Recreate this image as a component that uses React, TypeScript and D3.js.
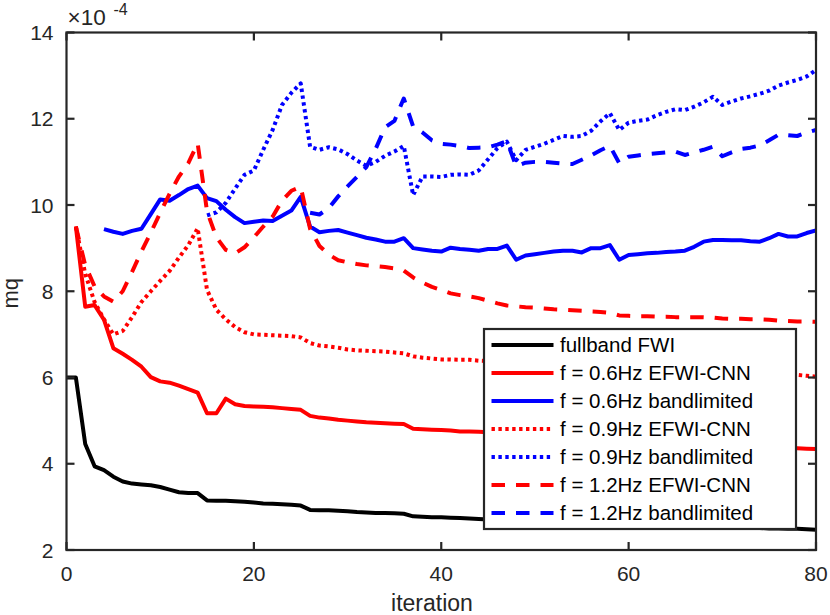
import { useEffect, useRef } from 'react';
import * as d3 from 'd3';

// iterations on x, mq (x 1e-4) on y
const xTicks = [0, 20, 40, 60, 80];
const yTicks = [2, 4, 6, 8, 10, 12, 14];

const fullbandStart = 0;
const fullband = [
  6.00, 6.00, 4.46, 3.94, 3.85, 3.70, 3.59, 3.54, 3.52, 3.50,
  3.46, 3.40, 3.34, 3.32, 3.32, 3.15, 3.14, 3.14, 3.13, 3.12,
  3.10, 3.08, 3.07, 3.06, 3.05, 3.03, 2.93, 2.92, 2.92, 2.91,
  2.90, 2.88, 2.87, 2.86, 2.86, 2.85, 2.84, 2.78, 2.77, 2.76,
  2.76, 2.75, 2.74, 2.73, 2.72, 2.71, 2.71, 2.70, 2.69, 2.68,
  2.67, 2.66, 2.65, 2.65, 2.64, 2.63, 2.62, 2.61, 2.60, 2.60,
  2.59, 2.58, 2.58, 2.57, 2.56, 2.56, 2.55, 2.55, 2.54, 2.53,
  2.53, 2.52, 2.52, 2.51, 2.51, 2.50, 2.50, 2.49, 2.49, 2.48,
  2.47,
];

const cnn06Start = 1;
const cnn06 = [
  9.50, 7.64, 7.68, 7.34, 6.68, 6.55, 6.41, 6.25, 6.01, 5.91,
  5.88, 5.81, 5.73, 5.65, 5.17, 5.17, 5.51, 5.38, 5.34, 5.33,
  5.32, 5.31, 5.29, 5.27, 5.25, 5.11, 5.07, 5.05, 5.02, 5.00,
  4.98, 4.96, 4.95, 4.94, 4.93, 4.92, 4.81, 4.80, 4.79, 4.78,
  4.77, 4.75, 4.75, 4.74, 4.73, 4.72, 4.71, 4.68, 4.66, 4.65,
  4.64, 4.62, 4.61, 4.60, 4.59, 4.57, 4.56, 4.55, 4.53, 4.52,
  4.51, 4.50, 4.49, 4.48, 4.47, 4.46, 4.45, 4.44, 4.43, 4.42,
  4.42, 4.41, 4.40, 4.39, 4.38, 4.38, 4.37, 4.36, 4.35, 4.34,
];

const band06Start = 4;
const band06 = [
  9.44, 9.38, 9.33, 9.40, 9.45, 9.79, 10.13, 10.10, 10.23, 10.37,
  10.45, 10.16, 10.09, 9.89, 9.72, 9.58, 9.61, 9.64, 9.63, 9.75,
  9.87, 10.19, 9.50, 9.37, 9.40, 9.42, 9.36, 9.30, 9.24, 9.20,
  9.15, 9.15, 9.23, 9.00, 8.97, 8.94, 8.92, 9.01, 8.98, 8.96,
  8.94, 8.98, 8.98, 9.06, 8.73, 8.83, 8.86, 8.89, 8.92, 8.94,
  8.94, 8.90, 9.00, 9.00, 9.07, 8.73, 8.84, 8.86, 8.88, 8.89,
  8.91, 8.92, 8.94, 9.03, 9.15, 9.19, 9.19, 9.18, 9.18, 9.16,
  9.15, 9.23, 9.33, 9.27, 9.27, 9.35, 9.41,
];

const cnn09Start = 1;
const cnn09 = [
  9.50, 8.40, 7.75, 7.35, 7.00, 7.08, 7.40, 7.75, 8.00, 8.24,
  8.47, 8.78, 9.07, 9.46, 8.03, 7.57, 7.35, 7.17, 7.05, 7.00,
  6.99, 6.98, 6.97, 6.96, 6.93, 6.80, 6.74, 6.72, 6.69, 6.65,
  6.63, 6.62, 6.61, 6.60, 6.58, 6.56, 6.49, 6.46, 6.44, 6.42,
  6.42, 6.41, 6.41, 6.39, 6.38, 6.37, 6.36, 6.33, 6.32, 6.31,
  6.30, 6.28, 6.27, 6.26, 6.25, 6.23, 6.22, 6.21, 6.19, 6.18,
  6.17, 6.16, 6.15, 6.14, 6.13, 6.12, 6.11, 6.11, 6.10, 6.09,
  6.09, 6.08, 6.08, 6.07, 6.07, 6.07, 6.06, 6.06, 6.04, 6.02,
];

const band09Start = 15;
const band09 = [
  9.76, 9.83, 10.05, 10.38, 10.70, 10.80, 11.28, 11.74, 12.32, 12.60,
  12.82, 11.35, 11.28, 11.34, 11.29, 11.18, 11.03, 10.91, 11.00, 11.14,
  11.24, 11.37, 10.23, 10.66, 10.66, 10.65, 10.70, 10.71, 10.70, 10.80,
  11.06, 11.32, 11.47, 11.04, 11.28, 11.35, 11.42, 11.51, 11.60, 11.58,
  11.60, 11.72, 11.94, 12.13, 11.74, 11.91, 11.95, 11.98, 12.08, 12.16,
  12.22, 12.20, 12.28, 12.38, 12.51, 12.32, 12.40, 12.47, 12.52, 12.58,
  12.65, 12.77, 12.84, 12.90, 12.98, 13.13,
];

const cnn12Start = 1;
const cnn12 = [
  9.50, 8.60, 8.11, 7.88, 7.76, 8.00, 8.45, 8.92, 9.36, 9.82,
  10.26, 10.66, 10.97, 11.43, 9.85, 9.25, 8.96, 8.88, 9.02, 9.25,
  9.50, 9.73, 10.10, 10.33, 10.42, 9.45, 9.05, 8.85, 8.72, 8.67,
  8.63, 8.60, 8.58, 8.56, 8.53, 8.48, 8.32, 8.20, 8.10, 8.03,
  7.95, 7.91, 7.88, 7.84, 7.78, 7.72, 7.67, 7.65, 7.63, 7.62,
  7.60, 7.58, 7.57, 7.56, 7.55, 7.53, 7.52, 7.50, 7.44, 7.43,
  7.42, 7.42, 7.41, 7.41, 7.40, 7.40, 7.40, 7.40, 7.39, 7.37,
  7.36, 7.36, 7.35, 7.35, 7.34, 7.32, 7.31, 7.30, 7.30, 7.29,
];

const band12Start = 26;
const band12 = [
  9.82, 9.78, 9.93, 10.20, 10.43, 10.65, 10.88, 11.30, 11.80, 11.95,
  12.47, 11.82, 11.68, 11.50, 11.42, 11.40, 11.37, 11.32, 11.33, 11.34,
  11.40, 11.48, 10.90, 10.98, 11.00, 11.00, 10.98, 10.96, 10.95, 11.05,
  11.15, 11.27, 11.37, 10.97, 11.12, 11.15, 11.18, 11.20, 11.22, 11.24,
  11.16, 11.22, 11.28, 11.35, 11.13, 11.22, 11.30, 11.33, 11.38, 11.50,
  11.63, 11.62, 11.60, 11.68, 11.74,
];

const labels = [
  'fullband FWI',
  'f = 0.6Hz EFWI-CNN',
  'f = 0.6Hz bandlimited',
  'f = 0.9Hz EFWI-CNN',
  'f = 0.9Hz bandlimited',
  'f = 1.2Hz EFWI-CNN',
  'f = 1.2Hz bandlimited',
];

const DOTTED = '3.4,3.5';
const DASHED = '13.5,11';

const series = [
  { label: labels[0], color: '#000000', dash: null, start: fullbandStart, values: fullband },
  { label: labels[1], color: '#ff0000', dash: null, start: cnn06Start, values: cnn06 },
  { label: labels[2], color: '#0000ff', dash: null, start: band06Start, values: band06 },
  { label: labels[3], color: '#ff0000', dash: DOTTED, start: cnn09Start, values: cnn09 },
  { label: labels[4], color: '#0000ff', dash: DOTTED, start: band09Start, values: band09 },
  { label: labels[5], color: '#ff0000', dash: DASHED, start: cnn12Start, values: cnn12 },
  { label: labels[6], color: '#0000ff', dash: DASHED, start: band12Start, values: band12 },
];

const W = 830;
const H = 615;
const FONT = '"Liberation Sans", Arial, Helvetica, sans-serif';
const AXIS = '#262626';

export default function App() {
  const svgRef = useRef<SVGSVGElement>(null);

  useEffect(() => {
    if (!svgRef.current) return;
    const svg = d3.select(svgRef.current);
    svg.selectAll('*').remove();

    const left = 66.5, right = 816, top = 32.5, bottom = 550;
    const x = d3.scaleLinear().domain([0, 80]).range([left, right]);
    const y = d3.scaleLinear().domain([2, 14]).range([bottom, top]);

    svg.append('rect').attr('width', W).attr('height', H).attr('fill', '#fff');

    svg.append('clipPath').attr('id', 'plot-clip')
      .append('rect')
      .attr('x', left).attr('y', top)
      .attr('width', right - left).attr('height', bottom - top);

    // data lines, drawn in legend order
    const path = d3.line<[number, number]>().x(d => x(d[0])).y(d => y(d[1]));
    const lines = svg.append('g').attr('clip-path', 'url(#plot-clip)');
    series.forEach(s => {
      const pts = s.values.map((v, i) => [s.start + i, v] as [number, number]);
      lines.append('path')
        .attr('d', path(pts))
        .attr('fill', 'none')
        .attr('stroke', s.color)
        .attr('stroke-width', 4)
        .attr('stroke-linejoin', 'round')
        .attr('stroke-linecap', 'butt')
        .attr('stroke-dasharray', s.dash);
    });

    // box + inward ticks on all sides
    const tickLen = 8;
    const ax = svg.append('g').attr('stroke', AXIS).attr('stroke-width', 2.2).attr('fill', 'none');
    ax.append('rect')
      .attr('x', left).attr('y', top)
      .attr('width', right - left).attr('height', bottom - top);
    xTicks.forEach(t => {
      ax.append('line').attr('x1', x(t)).attr('x2', x(t)).attr('y1', bottom).attr('y2', bottom - tickLen);
      ax.append('line').attr('x1', x(t)).attr('x2', x(t)).attr('y1', top).attr('y2', top + tickLen);
    });
    yTicks.forEach(t => {
      ax.append('line').attr('x1', left).attr('x2', left + tickLen).attr('y1', y(t)).attr('y2', y(t));
      ax.append('line').attr('x1', right).attr('x2', right - tickLen).attr('y1', y(t)).attr('y2', y(t));
    });

    const txt = svg.append('g').attr('font-family', FONT).attr('fill', AXIS);

    txt.selectAll('.xt')
      .data(xTicks)
      .join('text')
      .attr('x', d => x(d))
      .attr('y', bottom + 31)
      .attr('text-anchor', 'middle')
      .attr('font-size', 21)
      .text(d => d);

    txt.selectAll('.yt')
      .data(yTicks)
      .join('text')
      .attr('x', left - 13)
      .attr('y', d => y(d))
      .attr('dy', '0.36em')
      .attr('text-anchor', 'end')
      .attr('font-size', 21)
      .text(d => d);

    // exponent
    txt.append('text').attr('x', left + 1).attr('y', 25).attr('font-size', 22.5).text('×10');
    txt.append('text').attr('x', left + 47).attr('y', 15).attr('font-size', 16).text('-4');

    txt.append('text')
      .attr('x', 432).attr('y', 611)
      .attr('text-anchor', 'middle')
      .attr('font-size', 23)
      .text('iteration');

    txt.append('text')
      .attr('transform', `translate(18,${(top + bottom) / 2 + 2}) rotate(-90)`)
      .attr('text-anchor', 'middle')
      .attr('font-size', 22)
      .text('mq');

    // legend
    const lg = svg.append('g').attr('transform', 'translate(484,329)');
    lg.append('rect')
      .attr('width', 312).attr('height', 200)
      .attr('fill', '#fff')
      .attr('stroke', AXIS)
      .attr('stroke-width', 2.2);
    series.forEach((s, i) => {
      const cy = 16 + i * 28;
      lg.append('line')
        .attr('x1', 7.5).attr('x2', 69.5)
        .attr('y1', cy).attr('y2', cy)
        .attr('stroke', s.color)
        .attr('stroke-width', 4)
        .attr('stroke-dasharray', s.dash);
      lg.append('text')
        .attr('x', 76).attr('y', cy)
        .attr('dy', '0.36em')
        .attr('font-family', FONT)
        .attr('font-size', 20.5)
        .attr('fill', '#000')
        .text(s.label);
    });
  }, []);

  return (
    <div style={{ position: 'absolute', left: 0, top: 0 }}>
      <svg ref={svgRef} width={W} height={H} style={{ display: 'block' }} />
    </div>
  );
}
